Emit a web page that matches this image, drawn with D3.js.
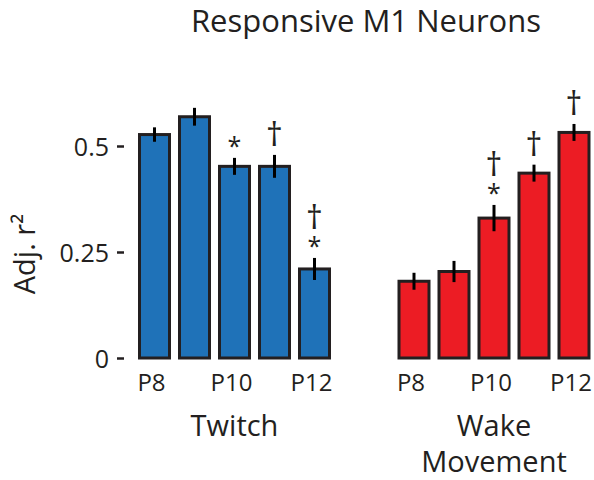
<!DOCTYPE html>
<html>
<head>
<meta charset="utf-8">
<script src="https://cdn.jsdelivr.net/npm/d3@7"></script>
<style>
  body { margin: 0; background: #fff; }
  text { font-family: "Open Sans", sans-serif; fill: #231f20; }
</style>
</head>
<body>
<div id="chart"></div>
<script>
// values
const categories = ["P8", "P9", "P10", "P11", "P12"];
const tickLabels = ["P8", "P10", "P12"];
const yTicks = [0, 0.25, 0.5];

const twitchMean = [0.527, 0.569, 0.452, 0.452, 0.210];
const twitchErr = [0.017, 0.021, 0.020, 0.027, 0.026];
const twitchMarks = [[], [], ["*"], ["†"], ["*", "†"]];

const wakeMean = [0.181, 0.204, 0.330, 0.436, 0.532];
const wakeErr = [0.020, 0.025, 0.031, 0.020, 0.020];
const wakeMarks = [[], [], ["*", "†"], ["†"], ["†"]];

const title = "Responsive M1 Neurons";
const yLabel = "Adj. r²";

const W = 594, H = 480;
const svg = d3.select("#chart").append("svg")
  .attr("width", W).attr("height", H);

const y = d3.scaleLinear().domain([0, 0.5]).range([358, 146]);

// per-glyph font size, glyph centre above baseline (em) and ink height (px)
const markStyle = {
  "*": { size: 25, centre: 0.59, h: 12 },
  "†": { size: 33, centre: 0.42, h: 21 }
};

const groups = [
  { label: ["Twitch"], mean: twitchMean, err: twitchErr, marks: twitchMarks, color: "#1f72b8", range: [134.5, 334.5] },
  { label: ["Wake", "Movement"], mean: wakeMean, err: wakeErr, marks: wakeMarks, color: "#ec1c24", range: [394, 594] }
];

// y axis (ticks only, no domain line)
const yAxis = svg.append("g")
  .attr("transform", "translate(124,0)")
  .call(d3.axisLeft(y).tickValues(yTicks).tickSize(7).tickPadding(8).tickFormat(d => d));
yAxis.select(".domain").remove();
yAxis.selectAll(".tick line").attr("stroke", "#231f20").attr("stroke-width", 2.5);
yAxis.selectAll(".tick text").attr("font-size", 25).attr("dy", "0.36em").style("font-family", null);

svg.append("text")
  .attr("transform", "translate(35,254) rotate(-90)")
  .attr("text-anchor", "middle")
  .attr("font-size", 29)
  .text(yLabel);

svg.append("text")
  .attr("x", 366).attr("y", 32)
  .attr("text-anchor", "middle")
  .attr("font-size", 31)
  .text(title);

groups.forEach(g => {
  const x = d3.scaleBand().domain(categories).range(g.range)
    .paddingInner(0.25).paddingOuter(0.125);
  const rows = categories.map((c, i) => ({ c, v: g.mean[i], e: g.err[i], marks: g.marks[i] }));
  const gg = svg.append("g");

  gg.selectAll("rect.bar").data(rows).join("rect")
    .attr("class", "bar")
    .attr("x", d => x(d.c))
    .attr("y", d => y(d.v))
    .attr("width", x.bandwidth())
    .attr("height", d => y(0) - y(d.v))
    .attr("fill", g.color)
    .attr("stroke", "#231f20")
    .attr("stroke-width", 3);

  gg.selectAll("line.err").data(rows).join("line")
    .attr("class", "err")
    .attr("x1", d => x(d.c) + x.bandwidth() / 2)
    .attr("x2", d => x(d.c) + x.bandwidth() / 2)
    .attr("y1", d => y(d.v + d.e))
    .attr("y2", d => y(d.v - d.e))
    .attr("stroke", "#000")
    .attr("stroke-width", 3);

  // significance marks, stacked upward from the error bar; one text per bar
  rows.filter(d => d.marks.length).forEach(d => {
    const cx = x(d.c) + x.bandwidth() / 2;
    const t = gg.append("text").attr("text-anchor", "middle");
    let bottom = y(d.v + d.e) - 12;
    d.marks.forEach(m => {
      const s = markStyle[m];
      const centre = bottom - s.h / 2;
      t.append("tspan")
        .attr("x", cx)
        .attr("y", centre + s.centre * s.size)
        .attr("font-size", s.size)
        .text(m);
      bottom = centre - s.h / 2 - 8;
    });
  });

  const xAxis = svg.append("g")
    .attr("transform", "translate(0,358)")
    .call(d3.axisBottom(x).tickValues(tickLabels).tickSize(0).tickPadding(16));
  xAxis.select(".domain").remove();
  xAxis.selectAll(".tick text").attr("font-size", 24).attr("dx", -3).style("font-family", null);

  const cx = x("P10") + x.bandwidth() / 2;
  g.label.forEach((line, i) => {
    svg.append("text")
      .attr("x", cx).attr("y", 436 + i * 36)
      .attr("text-anchor", "middle")
      .attr("font-size", 29)
      .text(line);
  });
});
</script>
</body>
</html>
